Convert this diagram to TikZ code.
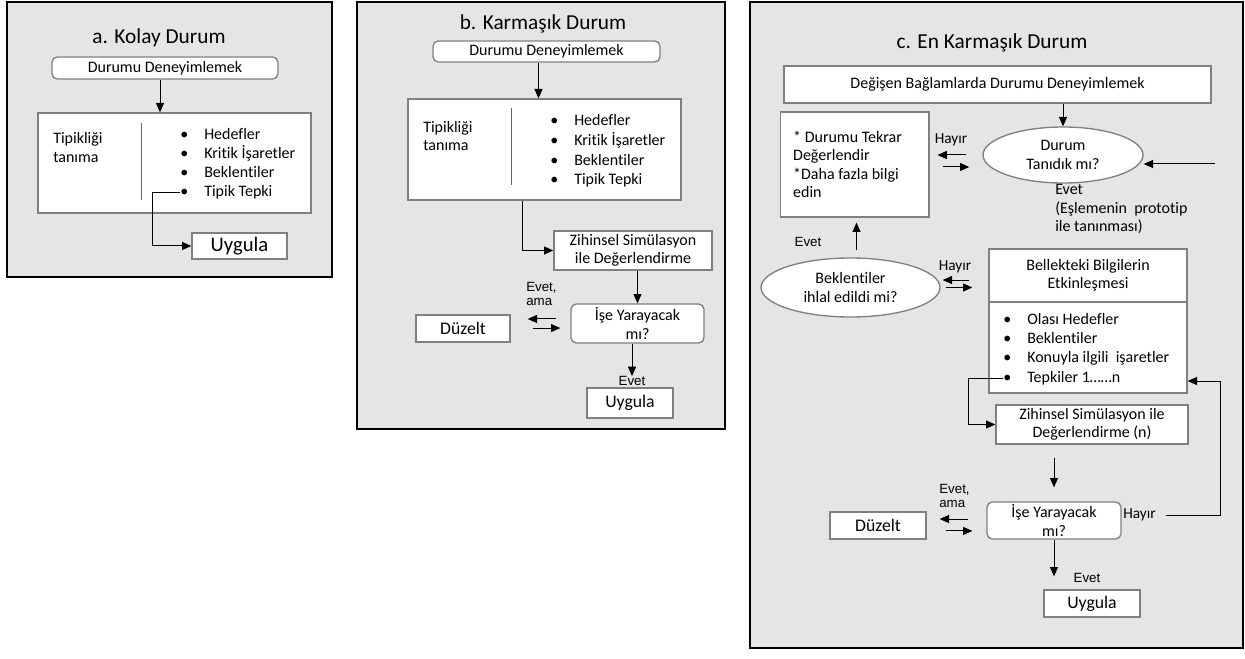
\documentclass[tikz,border=0pt]{standalone}
\usepackage{fontspec}
\setmainfont{Carlito}[Ligatures=NoCommon]
\newfontfamily\arialfont{Liberation Sans}
\usetikzlibrary{arrows.meta, shapes.geometric}
\newcommand{\blt}[1]{\makebox[18pt][l]{\textbullet}#1}

\begin{document}
\begin{tikzpicture}[x=0.75pt, y=-0.75pt,
        panel/.style={draw=black, line width=1.5pt, fill=black!10},
        box/.style={draw=black!50, line width=1pt, fill=white, inner sep=0pt, align=center, font=\fontsize{12}{13.8}\selectfont},
        rbox/.style={box, rounded corners=4pt},
        oval/.style={box, ellipse},
        heading/.style={font=\fontsize{16}{19}\selectfont},
        multi/.style={inner sep=0pt, align=left, font=\fontsize{12}{13.8}\selectfont},
        item/.style={inner sep=0pt, anchor=west, text height=8.5pt, text depth=2.5pt, font=\fontsize{12}{13.8}\selectfont},
        hayir/.style={inner sep=0pt, font=\fontsize{11.5}{13}\selectfont},
        small/.style={inner sep=0pt, align=left, font=\arialfont\fontsize{10}{10.5}\selectfont},
        link/.style={-{Triangle[length=7pt,width=6pt]}, line width=0.75pt},
        divider/.style={draw=black!60, line width=0.75pt}]
        \useasboundingbox (0,0) rectangle (1245,659);

        % a. Kolay Durum
        \draw [panel] (7,2) rectangle (332,277);
        \node [heading] (atitle) at (159,38) {a. Kolay Durum};
        \node [rbox, minimum width=169.5pt, minimum height=16.5pt] (aexp) at (165,68) {Durumu Deneyimlemek};
        \node [box, minimum width=204.75pt, minimum height=75pt] (arec) at (174.5,163) {};
        \draw [divider] (141,123) -- (141,200);
        \node [multi, anchor=west] (atip) at (53,147.5) {Tipikliği\\tanıma};
        \node [item] (aitem1) at (180,136) {\blt{Hedefler}};
        \node [item] (aitem2) at (180,155) {\blt{Kritik İşaretler}};
        \node [item] (aitem3) at (180,174) {\blt{Beklentiler}};
        \node [item] (aitem4) at (180,193) {\blt{Tipik Tepki}};
        \node [box, minimum width=71.25pt, minimum height=19.5pt, font=\fontsize{15.5}{17}\selectfont] (auyg) at (239.5,246) {Uygula};

        \draw [link] ([xshift=-3.75pt]aexp.south) -- ([xshift=-3.75pt]aexp.south |- arec.north);
        \draw [link] (aitem4.west) -- ++(-28,0) |- (auyg.west);

        % b. Karmasik Durum
        \draw [panel] (357,2) rectangle (725,429);
        \node [heading] (btitle) at (543,24) {b. Karmaşık Durum};
        \node [rbox, minimum width=170.25pt, minimum height=15.75pt] (bexp) at (546.5,51.5) {Durumu Deneyimlemek};
        \node [box, minimum width=204.75pt, minimum height=75.75pt] (brec) at (544.5,149.5) {};
        \draw [divider] (511,108) -- (511,185);
        \node [multi, anchor=west] (btip) at (423,136) {Tipikliği\\tanıma};
        \node [item] (bitem1) at (550,122) {\blt{Hedefler}};
        \node [item] (bitem2) at (550,142) {\blt{Kritik İşaretler}};
        \node [item] (bitem3) at (550,162) {\blt{Beklentiler}};
        \node [item] (bitem4) at (550,181) {\blt{Tipik Tepki}};
        \node [box, minimum width=118.5pt, minimum height=29.25pt] (bsim) at (633,250.5) {Zihinsel Simülasyon\\ile Değerlendirme};
        \node [rbox, minimum width=99.75pt, minimum height=29.25pt] (bq) at (637.5,323.5) {İşe Yarayacak\\mı?};
        \node [box, minimum width=70.5pt, minimum height=20.25pt, font=\fontsize{13.3}{15}\selectfont] (bduz) at (463,328.5) {Düzelt};
        \node [small, anchor=west] (bbut) at (526,294) {Evet,\\ama};
        \node [small] (bevet) at (632,381) {Evet};
        \node [box, minimum width=64.5pt, minimum height=22.5pt, font=\fontsize{13.3}{15}\selectfont] (buyg) at (630,403) {Uygula};
        \coordinate (bturn) at (522,245);

        \draw [link] ([xshift=-6pt]bexp.south) -- ([xshift=-6pt]bexp.south |- brec.north);
        \draw [link] (brec.south -| bturn) |- (bsim.west);
        \draw [link] (bsim.south -| bq.north) -- (bq.north);
        \draw [link] (bevet.north |- bq.south) -- (bevet.north);
        \draw [link, shorten <=10.5pt, shorten >=12.75pt] ([yshift=3.4pt]bq.west) -- ([yshift=3.4pt]bq.west -| bduz.east);
        \draw [link, shorten <=16.5pt, shorten >=7.5pt] ([yshift=-3.4pt]bq.west -| bduz.east) -- ([yshift=-3.4pt]bq.west);

        % c. En Karmasik Durum
        \draw [panel] (750,2) rectangle (1243,648);
        \node [heading] (ctitle) at (992,43) {c. En Karmaşık Durum};
        \node [box, minimum width=320.25pt, minimum height=27.75pt] (ctop) at (997.5,84.5) {Değişen Bağlamlarda Durumu Deneyimlemek};
        \node [oval, minimum width=120pt, minimum height=42pt] (cfam) at (1063,155) {Durum\\Tanıdık mı?};
        \node [box, text width=92pt, inner xsep=9.75pt, align=flush left, minimum height=78.75pt] (cleft) at (854.5,164.5) {* Durumu Tekrar\\Değerlendir\\{}*Daha fazla bilgi\\edin};
        \node [hayir] (cno1) at (951,140) {Hayır};
        \node [multi, anchor=west] (cyes) at (1055,209) {Evet\\(Eşlemenin\ \ prototip\\ile tanınması)};
        \node [oval, minimum width=134.25pt, minimum height=44.25pt] (cexp) at (850.5,287.5) {Beklentiler\\ihlal edildi mi?};
        \node [small] (cevet1) at (808,242) {Evet};
        \node [hayir] (cno2) at (955,267) {Hayır};
        \node [box, minimum width=148.5pt, minimum height=39.75pt] (cmem) at (1088,275.5) {Bellekteki Bilgilerin\\Etkinleşmesi};
        \node [box, minimum width=148.5pt, minimum height=68.25pt] (clist) at (1088,347.5) {};
        \node [item] (citem1) at (1003,320) {\blt{Olası Hedefler}};
        \node [item] (citem2) at (1003,339) {\blt{Beklentiler}};
        \node [item] (citem3) at (1003,358.5) {\blt{Konuyla ilgili\ \ işaretler}};
        \node [item] (citem4) at (1003,378) {\blt{Tepkiler 1……n}};
        \node [box, minimum width=144pt, minimum height=29.25pt] (csim) at (1092,424.5) {Zihinsel Simülasyon ile\\Değerlendirme (n)};
        \node [rbox, minimum width=100.5pt, minimum height=27.75pt] (cq) at (1054,520.5) {İşe Yarayacak\\mı?};
        \node [hayir, anchor=west] (cno3) at (1123,515) {Hayır};
        \node [box, minimum width=72pt, minimum height=20.25pt, font=\fontsize{13.3}{15}\selectfont] (cduz) at (878,525.5) {Düzelt};
        \node [small, anchor=west] (cbut) at (939,495.5) {Evet,\\ama};
        \node [small] (cevet2) at (1087,578) {Evet};
        \node [box, minimum width=72pt, minimum height=20.25pt, font=\fontsize{13.3}{15}\selectfont] (cuyg) at (1092,603.5) {Uygula};
        \coordinate (cin) at (1215,164);
        \coordinate (cback) at (1220,381);

        \draw [link] (ctop.south -| cfam.north) -- (cfam.north);
        \draw [link] (cin) -- (cin -| cfam.east);
        \draw [link, shorten <=12pt, shorten >=6pt] (cfam.west) -- (cfam.west -| cleft.east);
        \draw [link, shorten <=9.75pt, shorten >=9.75pt] ([yshift=-9pt]cfam.west -| cleft.east) -- ([yshift=-9pt]cfam.west);
        \draw [link, shorten <=5.25pt, shorten >=3.75pt] ([xshift=4.5pt]cexp.north) -- ([xshift=4.5pt]cexp.north |- cleft.south);
        \draw [link, shorten <=14.25pt, shorten >=1.5pt] ([yshift=-3.4pt]cmem.west) -- ([yshift=-3.4pt]cmem.west -| cexp.east);
        \draw [link, shorten <=3.75pt, shorten >=12pt] (cexp.east) -- (cexp.east -| cmem.west);
        \draw [link] (citem4.west) -- ++(-35,0) |- (csim.west);
        \draw [link, shorten <=9.75pt, shorten >=10.5pt] (csim.south -| cq.north) -- (cq.north);
        \draw [link] ([xshift=7.5pt]cno3.east) -| (cback) -- (cback -| clist.east);
        \draw [link, shorten <=13.5pt, shorten >=9.75pt] ([yshift=1.1pt]cq.west) -- ([yshift=1.1pt]cq.west -| cduz.east);
        \draw [link, shorten <=14.25pt, shorten >=10.5pt] ([yshift=-4.1pt]cduz.east) -- ([yshift=-4.1pt]cduz.east -| cq.west);
        \draw [link, shorten >=9.75pt] (cq.south) -- (cq.south |- cuyg.north);
    \end{tikzpicture}
\end{document}
